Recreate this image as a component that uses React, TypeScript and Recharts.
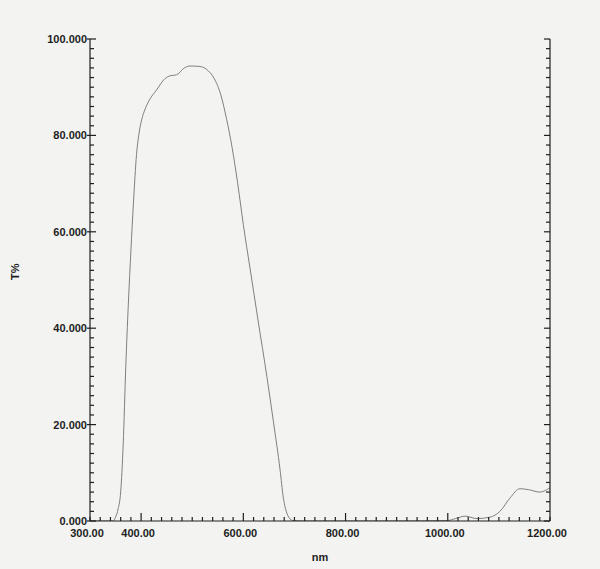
import { LineChart, Line, XAxis, YAxis } from 'recharts'

// wavelength (nm) and transmittance (T%)
const wavelengths = [
  300, 340, 345, 350, 355, 360, 365, 370, 375, 380, 385, 391, 396, 401, 408, 416, 430, 447, 458, 466,
  473, 481, 496, 515, 528, 543, 556, 567, 578, 589, 600, 613, 629, 646, 659, 672, 678, 684, 690, 697,
  720, 800, 900, 1000, 1015, 1034, 1057, 1083, 1102, 1122, 1141, 1158, 1180, 1200,
]
const transmittance = [
  0, 0, 0, 0.8, 2.5, 6, 16, 32, 45, 56, 66, 76, 80.5, 83.2, 85.5, 87.3, 89.4, 91.8, 92.4, 92.5,
  92.8, 93.7, 94.4, 94.3, 93.7, 91.8, 88.4, 83.5, 77.5, 70, 61.5, 52.5, 41.5, 30, 20.5, 10.5, 5, 2, 0.6, 0.1,
  0, 0, 0, 0.1, 0.5, 1.0, 0.5, 0.8, 2.0, 4.8, 6.7, 6.5, 6.0, 6.9,
]

const xTicks = Array.from({ length: 46 }, (_, i) => 300 + i * 20)
const xMajor = [400, 600, 800, 1000]
const xLabels = [300, 400, 600, 800, 1000, 1200]
const yTicks = Array.from({ length: 51 }, (_, i) => i * 2)
const yMajor = [0, 20, 40, 60, 80, 100]

const data = wavelengths.map((nm, i) => ({ nm, t: transmittance[i] }))

const ink = '#1e1e1e'
const font = '"Liberation Sans", Arial, sans-serif'

function BottomTick(props: any) {
  const { x, y, payload } = props
  const v = payload.value
  const len = xMajor.includes(v) ? 8 : 4
  return (
    <g>
      <line x1={x} x2={x} y1={y} y2={y - len} stroke={ink} strokeWidth={1.2} />
      {xLabels.includes(v) && (
        <text x={x - 3} y={y + 16} textAnchor="middle" fontSize={11} fontFamily={font} fill={ink} fontWeight={600}>
          {v.toFixed(2)}
        </text>
      )}
    </g>
  )
}

function TopTick(props: any) {
  const { x, y, payload } = props
  const len = xMajor.includes(payload.value) ? 8 : 4
  return <line x1={x} x2={x} y1={y} y2={y + len} stroke={ink} strokeWidth={1.2} />
}

function LeftTick(props: any) {
  const { x, y, payload } = props
  const v = payload.value
  const major = yMajor.includes(v)
  return (
    <g>
      <line x1={major ? x - 3 : x} x2={x + (major ? 6 : 4)} y1={y} y2={y} stroke={ink} strokeWidth={1.2} />
      {major && (
        <text x={x - 3} y={y + 4} textAnchor="end" fontSize={11} fontFamily={font} fill={ink} fontWeight={600}>
          {v.toFixed(3)}
        </text>
      )}
    </g>
  )
}

function RightTick(props: any) {
  const { x, y, payload } = props
  const len = yMajor.includes(payload.value) ? 6 : 4
  return <line x1={x} x2={x - len} y1={y} y2={y} stroke={ink} strokeWidth={1.2} />
}

export default function App() {
  return (
    <div style={{ position: 'absolute', left: 0, top: 0, width: 600, height: 569, background: '#f3f3f1' }}>
      <LineChart width={600} height={569} data={data} margin={{ top: 39, right: 0, bottom: 0, left: 0 }}>
        <XAxis
          dataKey="nm"
          type="number"
          domain={[300, 1200]}
          ticks={xTicks}
          interval={0}
          tick={BottomTick}
          tickLine={false}
          tickSize={0}
          tickMargin={0}
          height={48}
          axisLine={{ stroke: ink, strokeWidth: 1.2 }}
          allowDataOverflow
          label={{ value: 'nm', position: 'insideBottom', offset: 8, fontSize: 11, fontFamily: font, fill: ink, fontWeight: 600 }}
        />
        <XAxis
          xAxisId="top"
          orientation="top"
          dataKey="nm"
          type="number"
          domain={[300, 1200]}
          ticks={xTicks}
          interval={0}
          tick={TopTick}
          tickLine={false}
          tickSize={0}
          tickMargin={0}
          height={0}
          axisLine={{ stroke: ink, strokeWidth: 1.2 }}
          allowDataOverflow
        />
        <YAxis
          type="number"
          domain={[0, 100]}
          ticks={yTicks}
          interval={0}
          tick={LeftTick}
          tickLine={false}
          tickSize={0}
          tickMargin={0}
          width={90}
          axisLine={{ stroke: ink, strokeWidth: 1.2 }}
          allowDataOverflow
          label={{ value: 'T%', angle: -90, position: 'insideLeft', offset: 15, fontSize: 11, fontFamily: font, fill: ink, fontWeight: 600 }}
        />
        <YAxis
          yAxisId="right"
          orientation="right"
          type="number"
          domain={[0, 100]}
          ticks={yTicks}
          interval={0}
          tick={RightTick}
          tickLine={false}
          tickSize={0}
          tickMargin={0}
          width={50}
          axisLine={{ stroke: ink, strokeWidth: 1.2 }}
          allowDataOverflow
        />
        <Line
          dataKey="t"
          type="monotone"
          stroke="#7f7f7f"
          strokeWidth={1}
          dot={false}
          isAnimationActive={false}
        />
        <Line
          xAxisId="top"
          yAxisId="right"
          dataKey="t"
          stroke="none"
          strokeOpacity={0}
          dot={false}
          isAnimationActive={false}
        />
      </LineChart>
    </div>
  )
}
